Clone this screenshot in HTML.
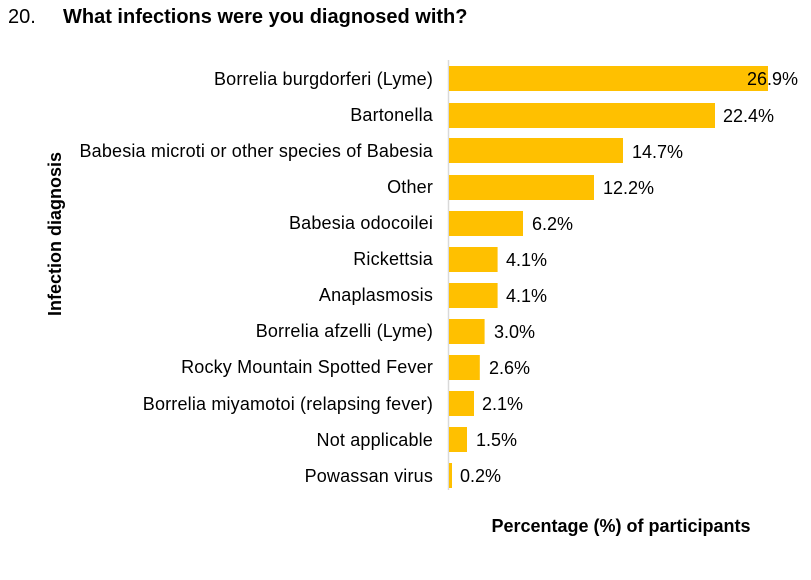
<!DOCTYPE html>
<html><head><meta charset="utf-8"><style>
html,body{margin:0;padding:0;background:#fff;}
svg{display:block;font-family:"Liberation Sans",Arial,sans-serif;}
.cat text{letter-spacing:0.17px;}
</style></head><body>
<svg width="811" height="580" viewBox="0 0 811 580">
<text x="8" y="23" font-size="20" fill="#000">20.</text>
<text x="63" y="23" font-size="20" font-weight="bold" fill="#000">What infections were you diagnosed with?</text>
<line x1="448.5" y1="60" x2="448.5" y2="490" stroke="#d9d9d9" stroke-width="1.5"/>
<g font-size="18" fill="#000">
<g text-anchor="end" class="cat">
<text x="433" y="85">Borrelia burgdorferi (Lyme)</text>
<text x="433" y="121">Bartonella</text>
<text x="433" y="157">Babesia microti or other species of Babesia</text>
<text x="433" y="193">Other</text>
<text x="433" y="229">Babesia odocoilei</text>
<text x="433" y="265">Rickettsia</text>
<text x="433" y="301">Anaplasmosis</text>
<text x="433" y="337">Borrelia afzelli (Lyme)</text>
<text x="433" y="373">Rocky Mountain Spotted Fever</text>
<text x="433" y="410">Borrelia miyamotoi (relapsing fever)</text>
<text x="433" y="446">Not applicable</text>
<text x="433" y="482">Powassan virus</text>
</g>
<g fill="#ffc000">
<rect x="449" y="66" width="319" height="25"/>
<rect x="449" y="103" width="266" height="25"/>
<rect x="449" y="138" width="174" height="25"/>
<rect x="449" y="175" width="145" height="25"/>
<rect x="449" y="211" width="74" height="25"/>
<rect x="449" y="247" width="48.6" height="25"/>
<rect x="449" y="283" width="48.6" height="25"/>
<rect x="449" y="319" width="35.6" height="25"/>
<rect x="449" y="355" width="30.8" height="25"/>
<rect x="449" y="391" width="25" height="25"/>
<rect x="449" y="427" width="18" height="25"/>
<rect x="449" y="463" width="3" height="25"/>
</g>
<text x="747" y="85">26.9%</text>
<text x="723" y="122">22.4%</text>
<text x="632" y="158">14.7%</text>
<text x="603" y="194">12.2%</text>
<text x="532" y="230">6.2%</text>
<text x="506" y="266">4.1%</text>
<text x="506" y="302">4.1%</text>
<text x="494" y="338">3.0%</text>
<text x="489" y="374">2.6%</text>
<text x="482" y="410">2.1%</text>
<text x="476" y="446">1.5%</text>
<text x="460" y="482">0.2%</text>
</g>
<text transform="translate(61,234) rotate(-90)" text-anchor="middle" font-size="18" font-weight="bold">Infection diagnosis</text>
<text x="621" y="532" text-anchor="middle" font-size="18" font-weight="bold">Percentage (%) of participants</text>
</svg>
</body></html>
